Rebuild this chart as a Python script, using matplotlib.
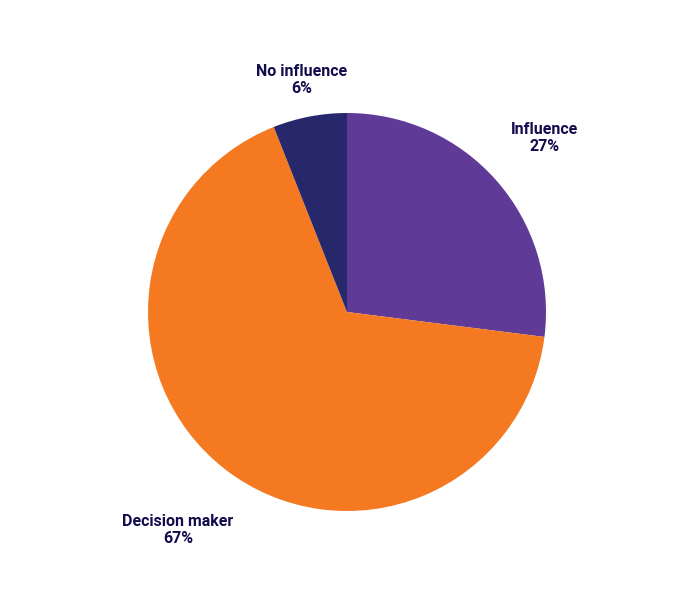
import matplotlib.pyplot as plt

labels = ['Influence', 'Decision maker', 'No influence']
shares = [27, 67, 6]
colors = ['#5f3b97', '#f47920', '#27286b']
# label anchor points in pie data coordinates (radius 1)
label_pos = [(0.99, 0.87), (-0.845, -1.09), (-0.225, 1.16)]

fig = plt.figure(figsize=(6.82, 6.0), dpi=100)
ax = fig.add_axes([147 / 682, 88 / 600, 400 / 682, 400 / 600])
ax.pie(shares, colors=colors, startangle=90, counterclock=False, radius=0.995,
       wedgeprops=dict(linewidth=0))
for lab, val, (x, y) in zip(labels, shares, label_pos):
    ax.text(x, y, f'{lab}\n{val}%', ha='center', va='center', fontsize=11.5,
            fontweight='bold', family='Roboto', color='#120c4d', linespacing=1.15)
ax.set_xlim(-1, 1)
ax.set_ylim(-1, 1)
ax.set_aspect('equal')
ax.axis('off')
fig.savefig('out.png', dpi=100)
